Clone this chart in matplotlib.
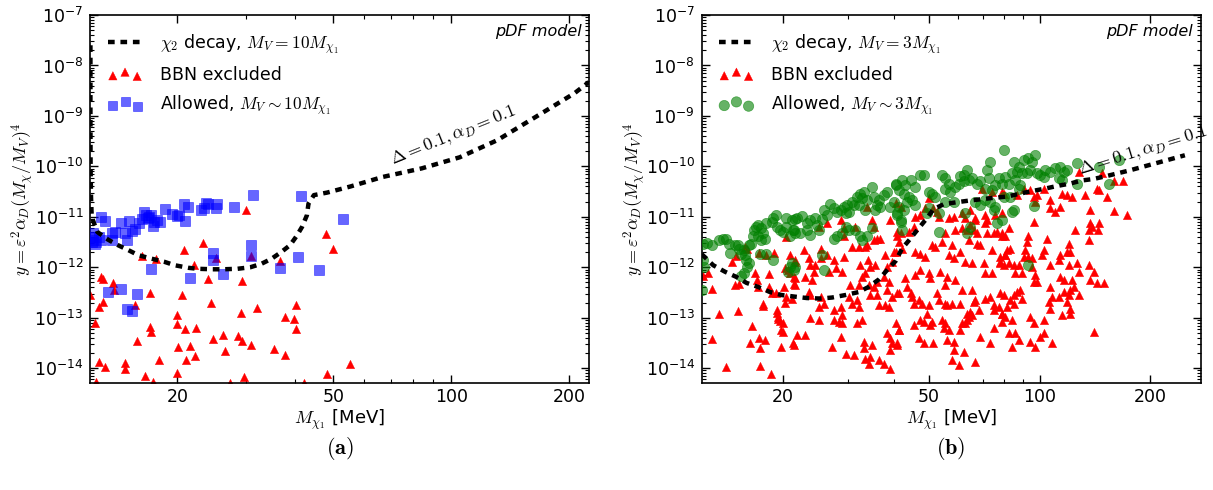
import numpy as np
import matplotlib
matplotlib.use('Agg')
import matplotlib.pyplot as plt
from matplotlib.ticker import FixedLocator, LogLocator, FuncFormatter, NullFormatter

plt.rcParams['mathtext.fontset'] = 'cm'
plt.rcParams['font.family'] = ['DejaVu Sans']

# ---------------- data (mass in MeV, log10 of y) ----------------
# panel (a): chi2 decay curve, M_V = 10 M_chi1
curve_a_mass = [12.01, 12.01, 12.02, 12.05, 12.1, 12.5, 13.3, 14.1, 15.0, 15.9, 17.2, 18.5, 19.7,
                21.3, 22.5, 24.6, 26.2, 28.5, 30.7, 32.8, 34.8, 36.8, 38.8, 40.3, 41.6, 42.8,
                43.2, 44.6, 48.2, 55.2, 66.8, 84.0, 105.0, 131.0, 164.0, 206.0, 224.0]
curve_a_logy = [-7.6, -9.0, -10.0, -10.6, -11.0, -11.30, -11.45, -11.56, -11.66, -11.76, -11.83,
                -11.89, -11.96, -12.01, -12.03, -12.04, -12.04, -12.03, -12.0, -11.93, -11.83,
                -11.70, -11.56, -11.38, -11.20, -10.97, -10.74, -10.57, -10.52, -10.40, -10.21,
                -10.04, -9.82, -9.48, -9.02, -8.55, -8.33]

bbn_a_points = [(12.0, -12.55), (12.3, -13.10), (12.6, -12.79), (12.8, -12.19), (12.9, -12.24),
                (12.9, -12.69), (13.7, -12.32), (13.8, -12.46), (12.6, -13.88), (13.1, -13.98),
                (14.7, -13.89), (14.7, -14.02), (15.8, -13.47), (16.5, -14.16), (17.0, -12.52),
                (17.0, -13.18), (17.1, -13.28), (17.3, -14.27), (18.0, -13.83), (20.0, -12.94),
                (20.0, -13.12), (20.1, -13.58), (20.0, -14.09), (20.6, -12.54), (20.8, -11.65),
                (20.9, -13.23), (21.1, -13.84), (21.6, -13.57), (22.3, -13.20), (22.2, -13.76),
                (23.2, -11.52), (22.1, -11.95), (24.0, -12.24), (24.4, -12.70), (24.6, -13.43),
                (16.3, -11.78), (17.7, -11.83), (15.6, -12.75), (12.4, -14.27),
                (30.0, -10.87), (25.1, -11.81), (30.8, -11.77), (36.6, -11.87), (29.2, -12.27),
                (47.9, -11.34), (49.8, -11.63), (29.0, -12.90), (31.9, -12.81), (40.2, -12.75),
                (37.7, -12.98), (39.7, -13.02), (40.2, -13.22), (26.2, -13.35), (26.4, -13.65),
                (28.5, -13.37), (29.2, -13.47), (30.9, -13.55), (35.2, -13.63), (37.7, -13.73),
                (55.0, -13.92), (48.2, -14.11), (29.6, -14.17), (42.0, -14.29), (27.3, -14.30)]

allowed_a_points = [(12.8, -11.00), (13.1, -11.08), (12.2, -11.33), (12.2, -11.46), (12.3, -11.53),
                    (12.6, -11.41), (12.8, -11.45), (12.4, -11.50), (12.1, -11.50), (12.1, -11.40),
                    (13.6, -11.32), (13.6, -11.46), (13.9, -11.30), (14.4, -11.13), (14.7, -11.32),
                    (14.9, -11.45), (15.1, -11.09), (15.3, -11.28), (15.6, -11.25), (16.4, -10.90),
                    (16.6, -10.97), (16.8, -11.03), (16.9, -11.00), (17.1, -10.97), (17.4, -11.10),
                    (17.3, -11.19), (17.8, -11.07), (18.1, -11.10), (16.3, -11.05), (16.0, -11.13),
                    (18.6, -10.85), (19.4, -10.95), (20.0, -10.99), (20.2, -10.97), (20.9, -11.09),
                    (20.8, -10.75), (21.3, -10.81), (23.0, -10.87), (23.4, -10.83), (23.9, -10.75),
                    (23.7, -10.72), (25.1, -10.83), (25.2, -10.74), (27.9, -10.80), (31.2, -10.56),
                    (41.3, -10.58), (52.8, -11.05), (17.1, -12.03), (13.3, -12.49), (14.4, -12.44),
                    (15.8, -12.53), (14.9, -12.83), (15.3, -12.86), (21.6, -12.21), (24.6, -11.71),
                    (24.6, -11.86), (30.9, -11.55), (30.8, -11.78), (26.1, -12.14), (36.6, -12.01),
                    (40.7, -11.79), (46.0, -12.06)]

# panel (b): chi2 decay curve, M_V = 3 M_chi1
curve_b_mass = [12.0, 12.9, 13.9, 14.9, 15.9, 17.1, 18.4, 19.8, 21.4, 23.2, 25.3, 27.2, 29.6, 32.2,
                34.2, 36.5, 38.8, 40.5, 42.2, 44.5, 46.8, 49.3, 51.4, 54.8, 59.6, 64.1, 69.7, 75.8,
                81.5, 88.6, 95.3, 103.7, 111.5, 121.3, 130.5, 140.4, 152.7, 176.0, 200.0, 249.0]
curve_b_logy = [-11.74, -11.96, -12.09, -12.19, -12.31, -12.39, -12.49, -12.55, -12.58, -12.61,
                -12.62, -12.60, -12.55, -12.49, -12.39, -12.24, -12.02, -11.88, -11.63, -11.43,
                -11.23, -11.03, -10.85, -10.75, -10.71, -10.68, -10.65, -10.62, -10.60, -10.54,
                -10.49, -10.44, -10.39, -10.34, -10.28, -10.25, -10.19, -10.08, -9.97, -9.78]

bbn_b_points = [
    (12.1, -12.17), (12.5, -12.11), (12.8, -12.44), (13.4, -12.93), (12.8, -13.43), (14.0, -13.97),
    (14.5, -11.90), (14.9, -11.78), (14.8, -12.35), (15.2, -12.33), (15.1, -12.86), (15.7, -11.59),
    (15.9, -11.63), (16.5, -13.17), (16.2, -13.50), (16.8, -12.11), (17.0, -12.25), (17.1, -12.39),
    (17.2, -11.71), (17.6, -12.72), (17.6, -12.77), (17.2, -13.41), (17.3, -13.61), (17.8, -13.44),
    (17.3, -13.96), (18.3, -12.14), (18.3, -12.40), (18.5, -14.12), (18.0, -11.76), (18.9, -11.71),
    (18.6, -12.51), (19.1, -12.52), (19.2, -12.84), (19.2, -12.90), (19.4, -12.98), (19.4, -13.03),
    (19.6, -13.06), (19.8, -13.25), (20.0, -13.11), (20.0, -13.28), (20.1, -12.39), (20.2, -12.02),
    (20.3, -12.70), (20.4, -11.41), (20.6, -12.06), (20.9, -11.76), (20.9, -12.12), (21.2, -12.62),
    (21.4, -12.33), (21.5, -11.89), (21.5, -12.22), (20.4, -12.58), (19.8, -13.58), (21.3, -13.51),
    (22.8, -11.66), (23.5, -11.82), (23.7, -11.96), (24.5, -11.96), (21.6, -11.86), (21.4, -12.19),
    (21.5, -12.35), (23.0, -12.19), (24.0, -12.25), (24.3, -12.09), (25.3, -11.63), (25.3, -11.82),
    (26.3, -11.76), (26.6, -12.09), (27.5, -11.86), (27.8, -12.02), (29.3, -11.79), (29.0, -12.09),
    (29.3, -11.39), (30.8, -11.59), (32.2, -11.59), (33.5, -11.59), (33.9, -11.56), (35.3, -11.46),
    (36.1, -11.43), (36.8, -11.43), (34.1, -11.86), (32.5, -11.96), (32.8, -12.19), (33.5, -12.12),
    (34.2, -12.35), (30.5, -12.35), (32.2, -12.35), (34.6, -11.99), (35.7, -11.96), (38.0, -11.76),
    (38.4, -11.99), (37.6, -12.19), (36.1, -12.29), (38.8, -12.29), (39.6, -11.89), (40.1, -11.69),
    (40.9, -11.39), (23.5, -12.49), (23.7, -12.55), (25.3, -12.58), (25.0, -12.78), (25.8, -12.72),
    (27.5, -12.85), (28.7, -12.78), (29.0, -12.95), (30.2, -12.58), (30.8, -12.72), (31.8, -12.65),
    (32.2, -12.78), (34.6, -12.55), (36.5, -12.75), (38.0, -12.75), (38.4, -12.45), (38.8, -12.78),
    (39.6, -12.58), (40.9, -12.52), (23.7, -13.01), (25.0, -13.05), (27.5, -13.05), (28.4, -13.08),
    (29.0, -13.11), (31.8, -13.11), (32.8, -13.05), (21.8, -13.34), (23.0, -13.34), (21.4, -13.54),
    (28.7, -13.38), (27.2, -13.58), (29.6, -13.71), (31.2, -13.74), (33.2, -13.48), (33.2, -13.61),
    (35.0, -13.54), (33.5, -13.81), (34.6, -13.77), (34.2, -13.91), (36.5, -13.84), (38.4, -13.31),
    (39.2, -13.41), (39.6, -13.51), (39.2, -13.64), (37.6, -13.91), (39.2, -14.01), (40.9, -13.54),
    (41.3, -13.25), (36.1, -12.55), (35.3, -12.39),
    (25.0, -11.20), (29.3, -11.23), (31.5, -11.20), (28.7, -11.06), (26.4, -11.13), (33.9, -10.80),
    (35.0, -11.06), (35.3, -11.20), (39.2, -11.06),
    (40.5, -10.73), (41.8, -10.80), (45.8, -11.00), (47.3, -10.97), (48.8, -10.83), (49.9, -10.63),
    (51.4, -10.83), (52.6, -10.90), (53.1, -11.00), (56.5, -11.03), (58.3, -11.00), (61.5, -10.93),
    (62.8, -11.03), (64.8, -10.87), (66.8, -11.03), (69.7, -10.44), (71.2, -10.97), (71.9, -11.06),
    (74.2, -10.50), (75.8, -10.97), (79.0, -10.93), (79.0, -10.50),
    (40.9, -11.30), (41.8, -11.33), (44.0, -11.30), (45.4, -11.20), (41.3, -11.49), (40.5, -11.69),
    (42.2, -11.63), (45.8, -11.69), (47.3, -11.73), (48.8, -11.79), (50.9, -11.56), (52.0, -11.59),
    (54.2, -11.49), (55.4, -11.33), (57.7, -11.56), (58.9, -11.26), (61.5, -11.23), (63.4, -11.26),
    (64.1, -11.46), (64.8, -11.16), (66.1, -11.26), (67.6, -11.33), (66.8, -11.06), (71.9, -11.33),
    (71.2, -11.13), (75.0, -11.33), (76.6, -11.30), (79.0, -11.33), (80.7, -11.39), (56.5, -11.76),
    (58.3, -11.82), (60.8, -11.69), (62.8, -11.89), (65.5, -11.92), (67.6, -11.53), (69.0, -11.56),
    (70.5, -11.92), (74.2, -11.66), (78.2, -11.89), (78.2, -11.79), (80.7, -11.76),
    (43.1, -12.22), (45.8, -12.16), (47.3, -12.06), (49.9, -12.12), (50.4, -12.22), (53.7, -12.09),
    (56.0, -12.19), (55.4, -12.35), (58.9, -12.25), (61.5, -12.45), (65.5, -12.45), (66.8, -12.65),
    (71.2, -12.12), (74.2, -12.12), (41.3, -12.52), (43.5, -12.39), (44.5, -12.52), (44.9, -12.58),
    (45.4, -12.72), (46.8, -12.65), (47.8, -12.72), (49.9, -12.75), (49.3, -12.92), (52.6, -12.52),
    (53.1, -12.65), (55.4, -12.72), (56.0, -12.75), (57.7, -12.72), (60.8, -12.72), (63.4, -12.92),
    (65.5, -12.95), (66.1, -12.68), (68.3, -12.85), (71.2, -12.62), (73.4, -12.58), (75.0, -12.75),
    (77.4, -12.78), (79.8, -12.55), (79.0, -12.92), (80.7, -12.98),
    (40.5, -13.11), (41.3, -13.25), (45.4, -13.15), (47.3, -13.05), (48.3, -13.08), (50.4, -13.15),
    (50.9, -13.08), (54.2, -13.05), (54.8, -13.21), (55.4, -13.11), (56.5, -13.25), (56.0, -13.44),
    (58.3, -13.48), (60.8, -13.25), (61.5, -13.11), (62.8, -13.11), (63.4, -13.05), (64.1, -12.98),
    (64.8, -12.88), (69.0, -13.38), (75.0, -13.21), (75.0, -12.85), (40.9, -13.51), (46.8, -13.41),
    (48.3, -13.51), (51.4, -13.51), (58.3, -13.64), (57.7, -13.84), (62.1, -13.67), (60.2, -13.94),
    (66.8, -13.87), (73.4, -13.51), (79.0, -13.08),
    (79.8, -10.54), (86.7, -10.57), (90.5, -10.44), (94.3, -10.47), (96.3, -10.60), (97.3, -10.70),
    (98.4, -10.57), (102.6, -10.44), (107.0, -10.67), (107.0, -10.83), (110.4, -10.90), (113.9, -10.80),
    (115.1, -10.54), (118.8, -10.57), (122.6, -10.60), (133.3, -10.57), (127.8, -10.11), (137.5, -10.87),
    (143.4, -10.44), (144.9, -10.47), (152.7, -10.60), (139.0, -11.20), (144.9, -11.13), (137.5, -11.13),
    (136.1, -11.26), (125.1, -11.26), (136.1, -11.46), (104.8, -11.43), (96.3, -11.10), (82.4, -11.23),
    (79.0, -11.39), (92.4, -11.49), (93.3, -11.39), (91.4, -11.66), (93.3, -11.79), (95.3, -11.82),
    (102.6, -11.66), (101.5, -11.76), (81.5, -11.66), (80.7, -11.76), (83.2, -11.63), (78.2, -11.92),
    (79.8, -11.96), (82.4, -11.92), (85.0, -11.96), (87.7, -11.96), (85.9, -12.12), (89.5, -12.12),
    (95.3, -11.99), (97.3, -12.16), (98.4, -12.29), (96.3, -12.29), (90.5, -11.79), (107.0, -11.96),
    (112.7, -11.86), (113.9, -11.76), (120.0, -11.53), (118.8, -11.69), (121.3, -11.69), (120.0, -11.96),
    (126.5, -11.92), (127.8, -12.09), (113.9, -12.19), (116.3, -12.25), (122.6, -12.25), (123.9, -12.39),
    (121.3, -12.45), (136.1, -11.96), (140.4, -12.09), (137.5, -12.25), (143.4, -12.32), (149.5, -12.31),
    (78.2, -12.52), (86.7, -12.49), (88.6, -12.45), (85.0, -12.55), (89.5, -12.62), (83.2, -12.65),
    (85.0, -12.72), (79.0, -12.92), (81.5, -12.78), (107.0, -12.39), (108.1, -12.58), (105.9, -12.68),
    (107.0, -12.82), (112.7, -12.58), (116.3, -12.49), (118.8, -12.68), (120.0, -12.55), (127.8, -12.55),
    (115.1, -12.95), (121.3, -12.82), (121.3, -12.92), (84.1, -13.05), (94.3, -12.98), (96.3, -13.11),
    (102.6, -13.05), (82.4, -13.31), (85.9, -13.31), (87.7, -13.44), (94.3, -13.48), (97.3, -13.58),
    (100.4, -13.38), (102.6, -13.30), (108.1, -13.51), (84.1, -13.58), (140.4, -13.28),
    (160.0, -10.30), (169.0, -10.30), (160.0, -10.88), (173.0, -10.96), (144.0, -11.27), (148.0, -10.14)]

allowed_b_points = [
    (12.1, -11.53), (12.4, -11.51), (12.8, -11.56), (13.4, -11.46), (13.7, -11.43), (14.0, -11.43),
    (14.2, -11.53), (14.3, -11.71), (14.8, -11.56), (15.1, -11.56), (15.2, -11.63), (15.4, -11.73),
    (15.6, -11.66), (15.7, -11.76), (15.8, -11.86), (16.1, -11.92), (15.9, -11.99), (15.6, -12.12),
    (15.4, -12.17), (16.1, -11.56), (16.4, -11.53), (16.6, -11.39), (16.7, -11.26), (16.9, -11.20),
    (17.1, -11.16), (17.4, -11.23), (17.6, -11.33), (17.8, -11.43), (17.4, -11.46), (17.1, -11.39),
    (18.0, -11.13), (18.6, -11.10), (18.8, -11.03), (19.1, -10.97), (19.2, -11.20), (19.6, -11.26),
    (20.0, -11.30), (20.4, -11.03), (20.4, -11.20), (20.9, -11.39), (21.3, -11.26), (21.5, -11.05),
    (21.5, -11.33), (12.1, -11.86), (12.2, -11.99), (12.0, -12.45), (17.3, -11.73), (18.0, -11.73),
    (18.8, -11.86), (20.9, -11.99), (20.6, -12.09),
    (21.2, -11.06), (21.8, -11.03), (22.5, -10.99), (23.2, -11.13), (23.7, -11.06), (24.5, -11.03),
    (24.7, -11.16), (25.8, -10.87), (25.5, -11.05), (26.4, -10.97), (26.9, -10.75), (27.5, -10.83),
    (28.1, -10.90), (28.7, -10.87), (29.3, -10.80), (29.6, -10.93), (29.9, -10.77), (30.2, -10.90),
    (30.8, -10.70), (31.2, -10.77), (31.8, -10.60), (32.2, -10.77), (32.5, -10.54), (32.8, -10.63),
    (33.2, -10.50), (33.5, -10.87), (33.9, -10.67), (35.0, -10.40), (35.3, -10.60), (35.7, -10.87),
    (36.1, -10.77), (36.5, -10.67), (36.8, -10.80), (37.6, -10.57), (38.4, -10.50), (39.2, -10.80),
    (40.1, -10.70), (40.5, -10.37), (40.9, -10.93), (41.3, -10.47), (41.8, -11.06), (21.4, -11.26),
    (22.3, -11.33), (23.2, -11.26), (23.7, -11.36), (25.0, -11.26), (27.5, -11.43), (28.1, -11.39),
    (29.0, -11.33), (29.6, -11.20), (30.2, -11.26), (31.5, -11.26), (32.5, -11.39), (32.8, -11.46),
    (33.9, -11.39), (35.0, -11.23), (25.5, -11.76), (25.8, -12.06), (21.4, -12.06), (21.2, -11.92),
    (21.6, -11.99),
    (40.5, -10.34), (42.2, -10.27), (43.1, -10.37), (44.5, -10.27), (45.8, -10.40), (47.3, -10.17),
    (48.3, -10.17), (42.7, -10.54), (44.0, -10.60), (44.9, -10.67), (43.5, -10.70), (45.8, -10.77),
    (41.3, -10.80), (42.7, -10.87), (40.9, -10.97), (41.8, -11.10), (42.2, -11.26), (49.9, -10.50),
    (50.9, -10.54), (52.0, -10.60), (54.2, -10.17), (55.4, -10.24), (56.5, -10.34), (55.4, -10.44),
    (57.1, -10.50), (58.9, -10.40), (60.2, -10.34), (60.8, -10.20), (62.1, -10.17), (63.4, -10.07),
    (62.1, -10.30), (64.1, -10.27), (65.5, -10.24), (67.6, -10.34), (69.0, -10.30), (71.2, -10.44),
    (71.9, -10.07), (73.4, -9.91), (72.7, -10.24), (74.2, -10.47), (75.8, -10.37), (77.4, -10.24),
    (79.0, -10.34), (80.2, -9.68), (49.9, -10.83), (49.3, -10.93), (53.1, -10.93), (53.1, -11.30),
    (55.4, -10.70), (58.3, -10.70), (62.8, -10.93), (63.4, -11.33), (64.8, -11.20), (66.8, -10.70),
    (69.0, -10.77), (71.2, -10.67), (73.4, -10.70), (75.0, -10.87), (75.8, -10.80), (76.6, -11.13),
    (79.8, -10.60),
    (85.0, -9.91), (87.7, -10.01), (90.5, -9.87), (93.3, -9.84), (95.3, -9.91), (97.3, -9.78),
    (84.1, -10.14), (86.7, -10.11), (89.5, -10.14), (92.4, -10.14), (94.3, -10.07), (98.4, -10.14),
    (100.4, -10.17), (102.6, -10.21), (107.0, -10.11), (110.4, -10.04), (113.9, -10.01), (116.3, -10.11),
    (118.8, -10.07), (112.7, -10.24), (115.1, -10.27), (126.5, -9.94), (126.5, -10.34), (144.9, -10.01),
    (154.3, -10.34), (82.4, -10.34), (85.9, -10.27), (87.7, -10.44), (83.2, -10.60), (85.0, -10.87),
    (84.1, -10.90), (96.3, -10.79), (79.0, -11.06), (93.3, -11.96), (80.7, -10.21), (88.6, -10.37),
    (103.7, -10.07), (165.0, -9.88)]

ytick_exponents = [-14, -13, -12, -11, -10, -9, -8, -7]
xtick_values = [20, 50, 100, 200]

panels = [
    dict(curve_mass=curve_a_mass, curve_logy=curve_a_logy, bbn=bbn_a_points,
         allowed=allowed_a_points, xlim=(12.0, 224.0),
         line_label=r'$\chi_2$ decay, $M_V = 10M_{\chi_1}$',
         allowed_label=r'Allowed, $M_V \sim 10M_{\chi_1}$',
         marker='s', color='#0000ff', alpha=0.6, size=42,
         note_xy=(71.0, 10 ** -9.97), note_rot=22, caption=r'$\mathbf{(a)}$'),
    dict(curve_mass=curve_b_mass, curve_logy=curve_b_logy, bbn=bbn_b_points,
         allowed=allowed_b_points, xlim=(12.0, 275.0),
         line_label=r'$\chi_2$ decay, $M_V = 3M_{\chi_1}$',
         allowed_label=r'Allowed, $M_V \sim 3M_{\chi_1}$',
         marker='o', color='#008000', alpha=0.6, size=55,
         note_xy=(129.0, 10 ** -10.17), note_rot=17, caption=r'$\mathbf{(b)}$'),
]

fig = plt.figure(figsize=(12.13, 4.90), dpi=100)
ax_rects = [[90.3 / 1213, 106.7 / 490, 498.5 / 1213, 368.3 / 490],
            [701.7 / 1213, 106.7 / 490, 499.0 / 1213, 368.3 / 490]]

tick_fs = 12.5
for rect, p in zip(ax_rects, panels):
    ax = fig.add_axes(rect)
    bm, bl = np.array(p['bbn']).T
    am, al = np.array(p['allowed']).T
    tri = ax.scatter(bm, 10.0 ** bl, marker='^', s=36, c='#ff0000', edgecolors='#ff0000',
                     linewidths=0.3, zorder=2)
    alw = ax.scatter(am, 10.0 ** al, marker=p['marker'], s=p['size'], c=p['color'],
                     alpha=p['alpha'], edgecolors=p['color'], linewidths=0.5, zorder=3)
    line, = ax.plot(p['curve_mass'], 10.0 ** np.array(p['curve_logy']), color='black', lw=3.2,
                    ls=(0, (1.5, 1.3)), zorder=4, solid_capstyle='butt')
    ax.set_xscale('log')
    ax.set_yscale('log')
    ax.set_xlim(*p['xlim'])
    ax.set_ylim(10 ** -14.3, 1e-7)
    ax.xaxis.set_major_locator(FixedLocator(xtick_values))
    ax.xaxis.set_major_formatter(FuncFormatter(lambda v, pos: '%d' % v))
    ax.xaxis.set_minor_locator(LogLocator(base=10, subs=np.arange(2, 10)))
    ax.xaxis.set_minor_formatter(NullFormatter())
    ax.yaxis.set_major_locator(FixedLocator([10.0 ** e for e in ytick_exponents]))
    ax.yaxis.set_major_formatter(FuncFormatter(
        lambda v, pos: r'$\mathregular{10^{%d}}$' % int(round(np.log10(v)))))
    ax.yaxis.set_minor_locator(LogLocator(base=10, subs=np.arange(2, 10), numticks=50))
    ax.yaxis.set_minor_formatter(NullFormatter())
    ax.tick_params(which='both', direction='in', top=True, right=True, labelsize=tick_fs)
    ax.tick_params(which='major', length=6, width=1)
    ax.tick_params(which='minor', length=3, width=0.8)
    ax.tick_params(axis='y', pad=5)
    for s in ax.spines.values():
        s.set_linewidth(1.2)
    ax.set_xlabel(r'$M_{\chi_1}$ [MeV]', fontsize=13, labelpad=1)
    ax.set_ylabel(r'$y = \varepsilon^2\alpha_D(M_\chi/M_V)^4$', fontsize=13)
    ax.yaxis.set_label_coords(-0.108, 0.5)
    ax.text(0.985, 0.955, 'pDF model', transform=ax.transAxes, ha='right', va='center',
            fontsize=11.5, style='italic')
    ax.text(p['note_xy'][0], p['note_xy'][1], r'$\Delta=0.1, \alpha_D=0.1$',
            rotation=p['note_rot'], rotation_mode='anchor', ha='left', va='baseline',
            fontsize=13, zorder=5)
    ax.legend([line, tri, alw], [p['line_label'], 'BBN excluded', p['allowed_label']],
              loc='upper left', frameon=False, fontsize=12.5, scatterpoints=3,
              scatteryoffsets=[0.35, 0.65, 0.3], handlelength=2.0, handletextpad=1.0,
              labelspacing=0.55, borderaxespad=0.6)
    cx = rect[0] + rect[2] / 2
    fig.text(cx, 1 - 448 / 490, p['caption'], ha='center', va='center', fontsize=16)

fig.savefig('out.png', dpi=100)
